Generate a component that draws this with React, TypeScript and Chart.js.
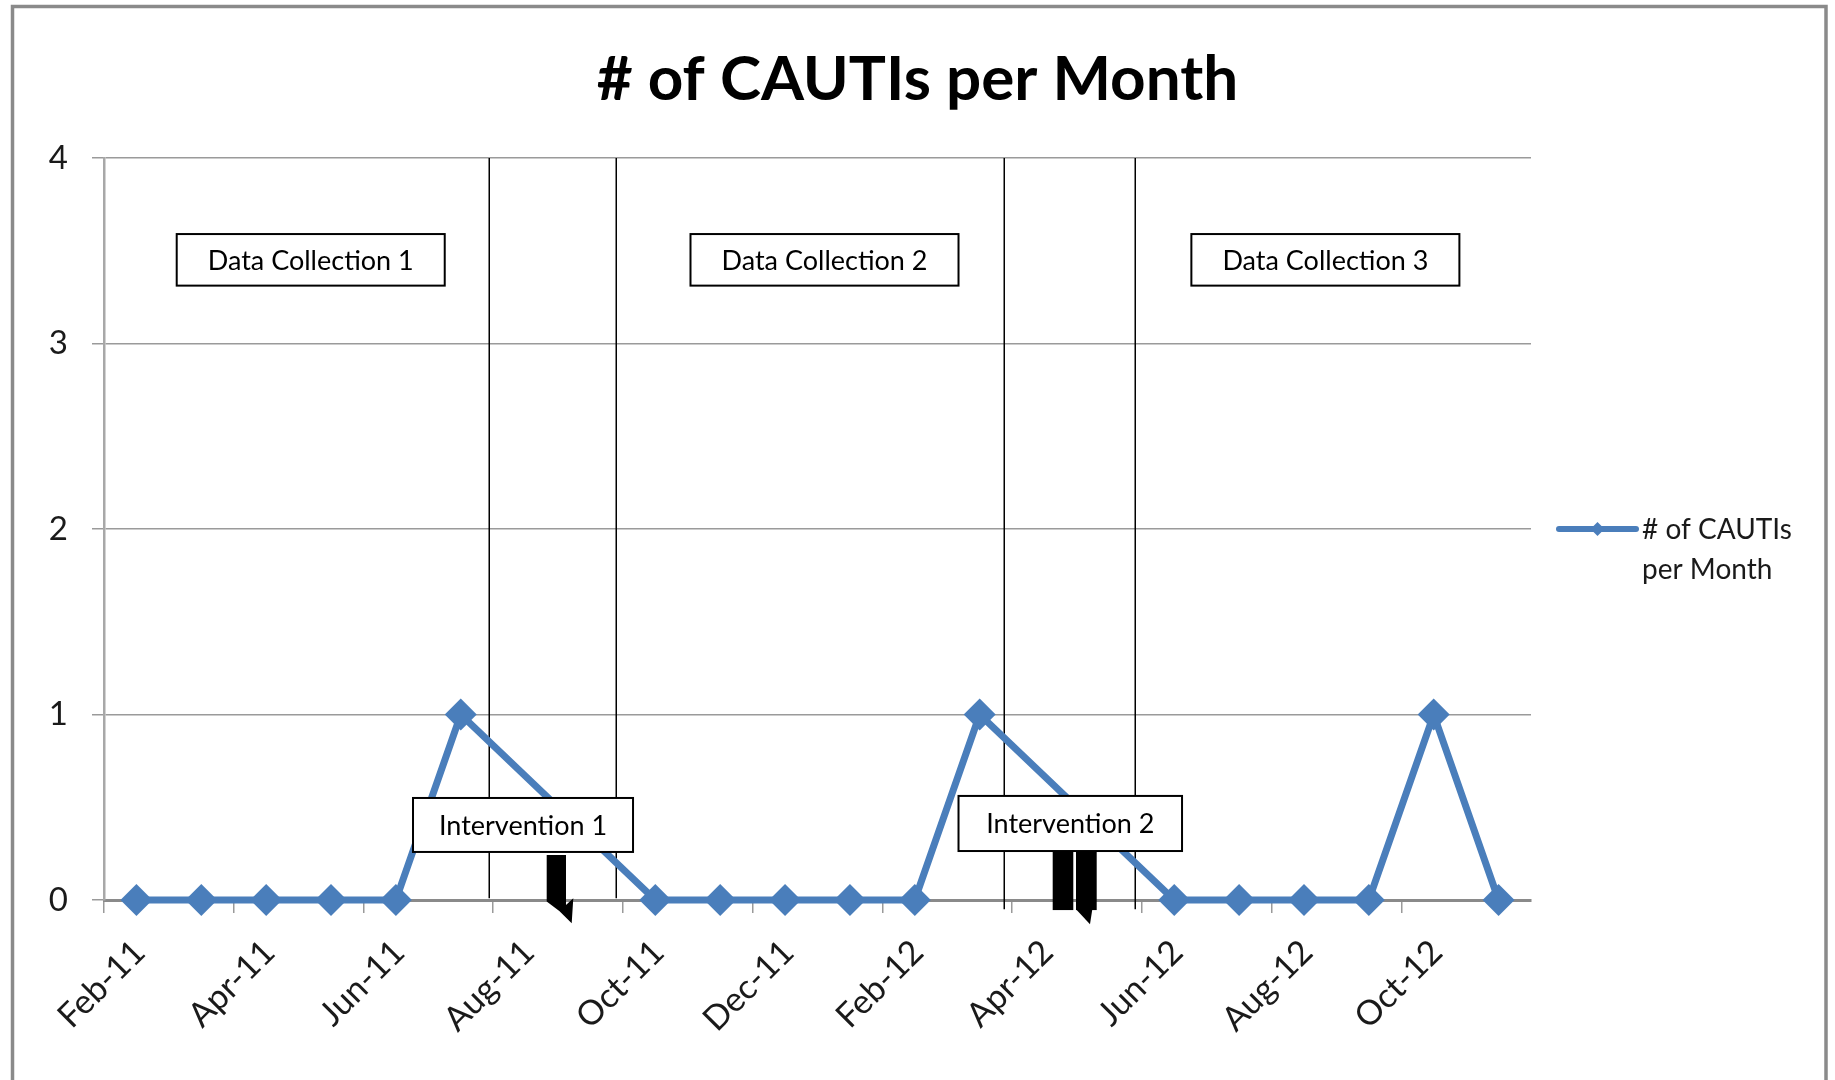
import React, { useEffect, useRef } from 'react';
import { Chart, registerables } from 'chart.js';

Chart.register(...registerables);

// ---- data ----
const months = [
  'Feb-11', 'Mar-11', 'Apr-11', 'May-11', 'Jun-11', 'Jul-11', 'Aug-11', 'Sep-11',
  'Oct-11', 'Nov-11', 'Dec-11', 'Jan-12', 'Feb-12', 'Mar-12', 'Apr-12', 'May-12',
  'Jun-12', 'Jul-12', 'Aug-12', 'Sep-12', 'Oct-12', 'Nov-12',
];
const cautis: (number | null)[] = [
  0, 0, 0, 0, 0, 1, null, null,
  0, 0, 0, 0, 0, 1, null, null,
  0, 0, 0, 0, 1, 0,
];
const yTickValues = [0, 1, 2, 3, 4];
const seriesName = '# of CAUTIs per Month';
const legendLines = ['# of CAUTIs', 'per Month'];
const phaseLabels = ['Data Collection 1', 'Data Collection 2', 'Data Collection 3'];
const interventionLabels = ['Intervention 1', 'Intervention 2'];

// annotation placement in data units (category index, y value)
const dividerX = [5.436, 7.393, 13.375, 15.395];
const dividerBottom = [0.01, 0.01, -0.05, -0.05];
const phaseBoxX = [[0.621, 4.753], [8.542, 12.674], [16.264, 20.396]];
const phaseBoxY = [3.59, 3.312];
const interventionBoxX = [[4.264, 7.656], [12.674, 16.12]];
const interventionBoxY = [[0.55, 0.259], [0.561, 0.264]];
const arrowAnchors = [[6.325, 0.243], [14.126, 0.26]];

const FONT = 'Lato';
const BLUE = '#4a7ebb';
const GRID = '#9a9a9a';
const TEXT = '#1a1a1a';

const annotationPlugin = {
  id: 'cautiAnnotations',
  beforeDraw(chart: any) {
    const { ctx, width, height } = chart;
    ctx.save();
    ctx.fillStyle = '#ffffff';
    ctx.fillRect(0, 0, width, height);
    ctx.strokeStyle = '#8a8a8a';
    ctx.lineWidth = 3.5;
    ctx.strokeRect(12.5, 6.5, width - 21.5, height + 50);
    ctx.restore();
  },
  beforeDatasetsDraw(chart: any) {
    const { ctx } = chart;
    const xs = chart.scales.x;
    const ys = chart.scales.y;
    ctx.save();
    ctx.strokeStyle = '#000';
    ctx.lineWidth = 1.5;
    dividerX.forEach((v, i) => {
      const px = Math.round(xs.getPixelForValue(v)) + 0.25;
      ctx.beginPath();
      ctx.moveTo(px, ys.getPixelForValue(4));
      ctx.lineTo(px, ys.getPixelForValue(dividerBottom[i]));
      ctx.stroke();
    });
    ctx.restore();
  },
  afterDatasetsDraw(chart: any) {
    const { ctx } = chart;
    const xs = chart.scales.x;
    const ys = chart.scales.y;
    const box = (x1: number, x2: number, y1: number, y2: number, label: string) => {
      const l = xs.getPixelForValue(x1);
      const r = xs.getPixelForValue(x2);
      const t = ys.getPixelForValue(y1);
      const b = ys.getPixelForValue(y2);
      ctx.fillStyle = '#fff';
      ctx.fillRect(l, t, r - l, b - t);
      ctx.strokeStyle = '#000';
      ctx.lineWidth = 2;
      ctx.strokeRect(l, t, r - l, b - t);
      ctx.fillStyle = '#000';
      ctx.font = `27px ${FONT}`;
      ctx.textAlign = 'center';
      ctx.textBaseline = 'middle';
      ctx.fillText(label, (l + r) / 2, (t + b) / 2 + 1);
    };
    ctx.save();
    phaseLabels.forEach((lab, i) => box(phaseBoxX[i][0], phaseBoxX[i][1], phaseBoxY[0], phaseBoxY[1], lab));
    interventionLabels.forEach((lab, i) =>
      box(interventionBoxX[i][0], interventionBoxX[i][1], interventionBoxY[i][0], interventionBoxY[i][1], lab));

    // arrows
    ctx.fillStyle = '#000';
    const a1x = xs.getPixelForValue(arrowAnchors[0][0]);
    const a1y = ys.getPixelForValue(arrowAnchors[0][1]);
    const poly1 = [[0, 0], [19.3, 0], [19.3, 50], [26.6, 43.3], [25, 68.3], [12.6, 56], [0, 46.7]];
    ctx.beginPath();
    poly1.forEach(([dx, dy], i) => (i ? ctx.lineTo(a1x + dx, a1y + dy) : ctx.moveTo(a1x + dx, a1y + dy)));
    ctx.closePath();
    ctx.fill();

    const a2x = xs.getPixelForValue(arrowAnchors[1][0]);
    const a2y = ys.getPixelForValue(arrowAnchors[1][1]);
    ctx.fillRect(a2x, a2y, 20.6, 58.3);
    ctx.fillRect(a2x + 23.3, a2y, 20.7, 58.3);
    ctx.beginPath();
    ctx.moveTo(a2x + 24, a2y + 58.3);
    ctx.lineTo(a2x + 39.5, a2y + 58.3);
    ctx.lineTo(a2x + 37.3, a2y + 72.6);
    ctx.closePath();
    ctx.fill();
    ctx.restore();
  },
  afterDraw(chart: any) {
    const { ctx, chartArea } = chart;
    const cy = (chartArea.top + chartArea.bottom) / 2;
    const x0 = chartArea.right + 28;
    const x1 = chartArea.right + 105;
    ctx.save();
    ctx.strokeStyle = BLUE;
    ctx.lineWidth = 6;
    ctx.lineCap = 'round';
    ctx.beginPath();
    ctx.moveTo(x0, cy);
    ctx.lineTo(x1, cy);
    ctx.stroke();
    const mx = (x0 + x1) / 2;
    ctx.fillStyle = BLUE;
    ctx.beginPath();
    ctx.moveTo(mx - 7, cy);
    ctx.lineTo(mx, cy - 7);
    ctx.lineTo(mx + 7, cy);
    ctx.lineTo(mx, cy + 7);
    ctx.closePath();
    ctx.fill();
    ctx.fillStyle = TEXT;
    ctx.font = `28px ${FONT}`;
    ctx.textAlign = 'left';
    ctx.textBaseline = 'middle';
    legendLines.forEach((line, i) => ctx.fillText(line, x1 + 6, cy + 1 + i * 40));
    ctx.restore();
  },
};

export default function App() {
  const canvasRef = useRef<HTMLCanvasElement | null>(null);

  useEffect(() => {
    document.body.style.margin = '0';
    document.body.style.overflow = 'hidden';
    const canvas = canvasRef.current;
    if (!canvas) return;
    const chart = new Chart(canvas, {
      type: 'line',
      data: {
        labels: months,
        datasets: [
          {
            label: seriesName,
            data: cautis,
            borderColor: BLUE,
            backgroundColor: BLUE,
            borderWidth: 7,
            pointStyle: 'rectRot',
            pointRadius: 16,
            pointHoverRadius: 16,
            pointBackgroundColor: BLUE,
            pointBorderColor: BLUE,
            pointBorderWidth: 0,
            spanGaps: true,
            tension: 0,
            clip: false as any,
          },
        ],
      },
      options: {
        animation: false,
        responsive: false,
        devicePixelRatio: 1,
        layout: { padding: 0 },
        plugins: {
          legend: { display: false },
          tooltip: { enabled: false },
          title: {
            display: true,
            text: seriesName,
            color: '#000',
            font: { family: FONT, size: 62, weight: 'bold', lineHeight: 1.2 },
            padding: { top: 43, bottom: 40.6 },
          },
        },
        scales: {
          x: {
            type: 'category',
            offset: true,
            afterFit: (scale: any) => {
              scale.height = 180;
            },
            grid: {
              offset: true,
              drawOnChartArea: false,
              drawTicks: true,
              tickLength: 13,
              lineWidth: 1.5,
              color: (c: any) => (c.index % 2 === 0 ? GRID : 'rgba(0,0,0,0)'),
            },
            border: { color: '#8a8a8a', width: 3 },
            ticks: {
              autoSkip: false,
              minRotation: 45,
              maxRotation: 45,
              padding: 19,
              labelOffset: 3,
              color: TEXT,
              font: { family: FONT, size: 34 },
              callback: (_v: any, i: number) => (i % 2 === 0 ? months[i] : ''),
            },
          },
          y: {
            min: 0,
            max: 4,
            afterFit: (scale: any) => {
              scale.width = 104;
            },
            afterBuildTicks: (scale: any) => {
              scale.ticks = yTickValues.map((v) => ({ value: v }));
            },
            grid: {
              color: GRID,
              lineWidth: 1.5,
              tickLength: 12,
            },
            border: { color: '#a8a8a8', width: 2.5 },
            ticks: {
              stepSize: 1,
              padding: 24,
              color: TEXT,
              font: { family: FONT, size: 33 },
            },
          },
          legendSpace: {
            type: 'linear',
            position: 'right',
            display: true,
            afterFit: (scale: any) => {
              scale.width = 304;
            },
            grid: { display: false, drawOnChartArea: false },
            border: { display: false },
            ticks: { display: false },
          },
        },
      },
      plugins: [annotationPlugin],
    });
    return () => chart.destroy();
  }, []);

  return (
    <div style={{ position: 'absolute', left: 0, top: 0, width: 1835, height: 1080 }}>
      <canvas ref={canvasRef} width={1835} height={1080} style={{ display: 'block' }} />
    </div>
  );
}
